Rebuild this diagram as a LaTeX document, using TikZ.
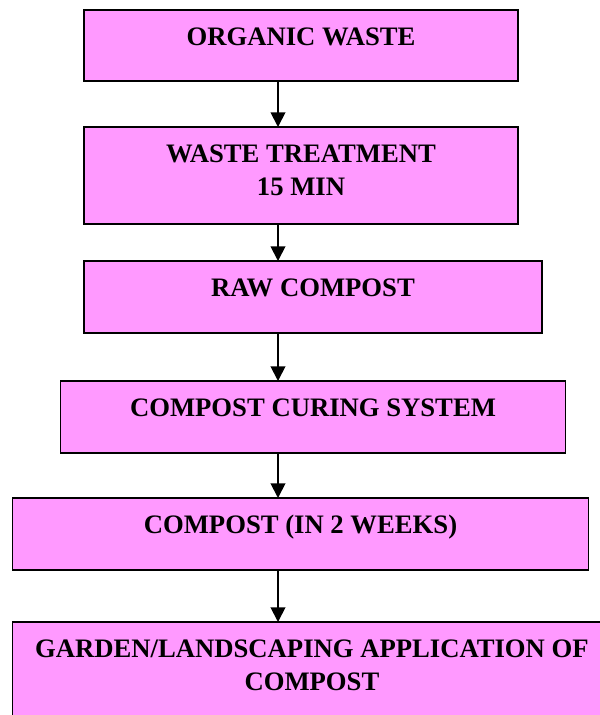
\documentclass[tikz,border=0pt]{standalone}
\usepackage{fontspec}
\setmainfont{Liberation Serif}
\definecolor{StagePink}{RGB}{255, 153, 255}
\usepackage{tikz}
\usetikzlibrary{arrows.meta, positioning}
\tikzset{
  stage/.style={rectangle, draw=black, line width=1.2pt, fill=StagePink,
                inner xsep=0pt, inner ysep=0pt, outer sep=0pt,
                text height=26.7pt, text depth=#1,
                font=\fontsize{20}{24.75}\selectfont\bfseries, text=black, align=center},
  stage/.default=27.3pt,
  twoline/.style={text height=51.45pt, text depth=#1},
  flow/.style={-{Triangle[length=11pt, width=11pt]}, line width=1.4pt, color=black},
}

\begin{document}
\begin{tikzpicture}
      \useasboundingbox[fill=white] (0,0) rectangle (450pt,-536.25pt);
      \coordinate (axis) at (208.5pt,0);

      \node[stage=26.55pt, anchor=north, minimum width=325.5pt] (organic) at (225.75pt,-7.5pt)
           {ORGANIC WASTE};

      \node[stage, twoline=21.3pt, minimum width=325.5pt, below=34.5pt of organic] (treat)
           {WASTE TREATMENT\\15 MIN};

      \node[stage, minimum width=343.5pt, below=27.75pt of treat, xshift=9pt] (raw)
           {RAW COMPOST};

      \node[stage, minimum width=378.75pt, below=36pt of raw] (curing)
           {COMPOST CURING SYSTEM};

      \node[stage, minimum width=432pt, below=33.75pt of curing, xshift=-9.4pt] (ready)
           {COMPOST (IN 2 WEEKS)};

      \node[stage, twoline=26pt, minimum width=449.25pt, below=39pt of ready, xshift=8.6pt] (garden)
           {GARDEN/LANDSCAPING APPLICATION OF\\COMPOST};

      % all arrows share one vertical line, left of the box centres
      \draw[flow] (organic.south -| axis) -- (treat.north -| axis);
      \draw[flow] (treat.south -| axis)   -- (raw.north -| axis);
      \draw[flow] (raw.south -| axis)     -- (curing.north -| axis);
      \draw[flow] (curing.south -| axis)  -- (ready.north -| axis);
      \draw[flow] (ready.south -| axis)   -- (garden.north -| axis);
    \end{tikzpicture}
\end{document}
